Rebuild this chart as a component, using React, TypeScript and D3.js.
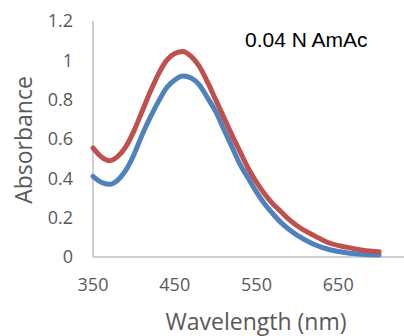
import React, { useEffect, useRef } from "react";
import * as d3 from "d3";

// wavelength (nm)
const wavelengths = [
  350, 360, 370, 380, 390, 400, 410, 420, 430, 440, 450, 460, 470, 480, 490,
  500, 510, 520, 530, 540, 550, 560, 570, 580, 590, 600, 620, 640, 660, 680, 700,
];
// absorbance, lower (blue) series
const seriesBlue = [
  0.41, 0.38, 0.37, 0.39, 0.44, 0.52, 0.62, 0.71, 0.79, 0.86, 0.9, 0.92, 0.91,
  0.875, 0.81, 0.74, 0.65, 0.56, 0.47, 0.4, 0.33, 0.27, 0.22, 0.175, 0.14, 0.11,
  0.065, 0.037, 0.022, 0.014, 0.01,
];
// absorbance, upper (red) series
const seriesRed = [
  0.555, 0.51, 0.49, 0.51, 0.56, 0.64, 0.74, 0.84, 0.93, 1.0, 1.035, 1.045,
  1.02, 0.97, 0.89, 0.8, 0.71, 0.62, 0.535, 0.45, 0.38, 0.32, 0.27, 0.23, 0.19,
  0.158, 0.11, 0.07, 0.05, 0.035, 0.027,
];
const xTicks = [350, 450, 550, 650, 750];
const yTicks = [0, 0.2, 0.4, 0.6, 0.8, 1, 1.2];
const chartLabel = "0.04 N AmAc";

const App = () => {
  const ref = useRef<SVGSVGElement | null>(null);

  useEffect(() => {
    document.body.style.margin = "0";
    const svg = d3.select(ref.current);
    svg.selectAll("*").remove();

    const x = d3.scaleLinear().domain([350, 750]).range([93, 420]);
    const y = d3.scaleLinear().domain([0, 1.2]).range([257, 21]);
    const axisColor = "#BFBFBF";
    const textColor = "#595959";
    const font = "'Open Sans', sans-serif";

    // axes lines
    svg
      .append("line")
      .attr("x1", x(350))
      .attr("x2", x(750))
      .attr("y1", y(0))
      .attr("y2", y(0))
      .attr("stroke", axisColor)
      .attr("stroke-width", 1.5);
    svg
      .append("line")
      .attr("x1", x(350))
      .attr("x2", x(350))
      .attr("y1", y(0))
      .attr("y2", y(1.2))
      .attr("stroke", axisColor)
      .attr("stroke-width", 1.5);

    // tick labels
    svg
      .selectAll(".ytick")
      .data(yTicks)
      .enter()
      .append("text")
      .attr("x", 73)
      .attr("y", (d) => y(d))
      .attr("dy", "0.36em")
      .attr("text-anchor", "end")
      .attr("font-family", font)
      .attr("font-size", 18)
      .attr("fill", textColor)
      .text((d) => d3.format("~g")(d));

    svg
      .selectAll(".xtick")
      .data(xTicks)
      .enter()
      .append("text")
      .attr("x", (d) => x(d))
      .attr("y", 291)
      .attr("text-anchor", "middle")
      .attr("font-family", font)
      .attr("font-size", 18)
      .attr("fill", textColor)
      .text((d) => d);

    // axis titles
    svg
      .append("text")
      .attr("x", 256)
      .attr("y", 330)
      .attr("text-anchor", "middle")
      .attr("font-family", font)
      .attr("font-size", 23)
      .attr("fill", textColor)
      .text("Wavelength (nm)");
    svg
      .append("text")
      .attr("transform", "translate(32,140) rotate(-90)")
      .attr("text-anchor", "middle")
      .attr("font-family", font)
      .attr("font-size", 23)
      .attr("fill", textColor)
      .text("Absorbance");

    // curves
    const line = d3
      .line<number>()
      .x((_, i) => x(wavelengths[i]))
      .y((d) => y(d))
      .curve(d3.curveMonotoneX);

    [
      { data: seriesBlue, color: "#4F81BD" },
      { data: seriesRed, color: "#C0504D" },
    ].forEach((s) => {
      svg
        .append("path")
        .attr("d", line(s.data))
        .attr("fill", "none")
        .attr("stroke", s.color)
        .attr("stroke-width", 5)
        .attr("stroke-linecap", "round");
    });

    // label
    svg
      .append("text")
      .attr("x", 245)
      .attr("y", 47)
      .attr("font-family", "'Liberation Sans', Arial, sans-serif")
      .attr("font-size", 21)
      .attr("fill", "#000000")
      .text(chartLabel);
  });

  return <svg ref={ref} width={404} height={336} style={{ display: "block" }} />;
};

export default App;
